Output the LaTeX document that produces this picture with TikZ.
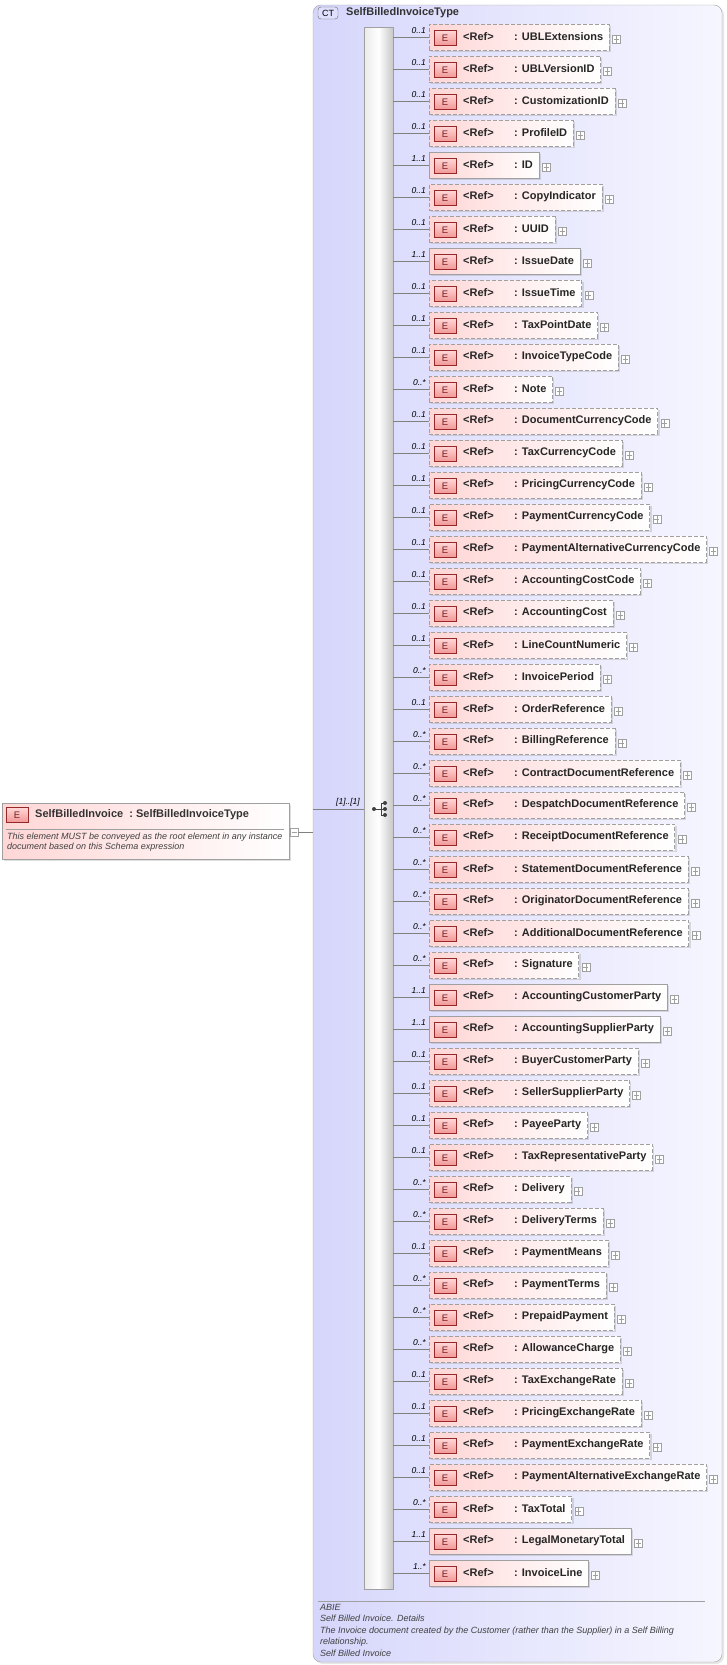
\documentclass[tikz,border=0pt]{standalone}
\usepackage{fontspec}
\setmainfont{Liberation Sans}
\usetikzlibrary{calc,shadows}
\definecolor{pinkL}{RGB}{255,214,214}
\definecolor{lav}{RGB}{214,214,252}
\definecolor{lavR}{RGB}{246,246,255}
\definecolor{edark}{RGB}{150,40,40}
\definecolor{ered}{RGB}{240,150,150}
\definecolor{lgray}{RGB}{160,160,160}
\tikzset{
 box/.style={draw=lgray,left color=pinkL,right color=white,minimum height=26pt,inner xsep=6pt,inner ysep=0pt,
   font=\fontsize{11}{12}\selectfont\bfseries,text=black!85,drop shadow={shadow xshift=2pt,shadow yshift=-2pt,opacity=0.25}},
 opt/.style={dashed,dash pattern=on 4pt off 2pt},
 req/.style={solid},
 ebadge/.style={draw=edark,fill=ered,top color=pinkL,bottom color=ered,minimum width=22pt,minimum height=15pt,inner sep=0pt,font=\fontsize{9.5}{10}\selectfont,text=edark!80!black},
 plus/.style={draw=lgray,fill=white,minimum size=8pt,inner sep=0pt,path picture={\draw[lgray,line width=0.5pt]
   ($(path picture bounding box.west)+(1.5,0)$)--($(path picture bounding box.east)+(-1.5,0)$)
   ($(path picture bounding box.north)+(0,-1.5)$)--($(path picture bounding box.south)+(0,1.5)$);}},
 card/.style={font=\fontsize{8.5}{9}\selectfont\itshape,inner sep=0pt},
 conn/.style={draw=gray,line width=0.6pt},
 doc/.style={font=\fontsize{9}{11.5}\selectfont\itshape,text=black!75,align=left,inner sep=0pt},
}
\begin{document}
\begin{tikzpicture}[x=1pt,y=-1pt]
\useasboundingbox (0,0) rectangle (727,1665);
% CT container
\draw[lgray,rounded corners=8pt,left color=lav,right color=lavR,drop shadow={shadow xshift=2pt,shadow yshift=-2pt,opacity=0.2}] (313,5) rectangle (722,1662);
\node[draw=black!60,fill=lav!70!blue!30,rounded corners=3pt,minimum width=20pt,minimum height=12pt,inner sep=0pt,font=\fontsize{9}{9}\selectfont] (ct) at (328,13) {CT};
\node[anchor=west,font=\fontsize{11}{12}\selectfont\bfseries,text=black!80,inner sep=0pt] (ctname) at (346,13) {SelfBilledInvoiceType};
% compositor bar
\node[draw=lgray,left color=black!8,right color=black!22,middle color=white,minimum width=29pt,minimum height=1562pt,inner sep=0pt] (bar) at (378.5,808) {};
% sequence icon
\coordinate (sq) at (380,809);
\fill[black!75] ($(sq)+(-6,0)$) circle (2pt) ($(sq)+(5,-6)$) circle (2pt) ($(sq)+(5,0)$) circle (2pt) ($(sq)+(5,6)$) circle (2pt);
\draw[black!75,line width=0.8pt] ($(sq)+(-6,0)$)--($(sq)+(1,0)$) ($(sq)+(1,-6)$)--($(sq)+(1,6)$) ($(sq)+(1,-6)$)--($(sq)+(5,-6)$) ($(sq)+(1,6)$)--($(sq)+(5,6)$) ($(sq)+(1,0)$)--($(sq)+(5,0)$);
% rows
\foreach \n/\c/\s [count=\i from 0] in {
UBLExtensions/0..1/opt,UBLVersionID/0..1/opt,CustomizationID/0..1/opt,ProfileID/0..1/opt,ID/1..1/req,
CopyIndicator/0..1/opt,UUID/0..1/opt,IssueDate/1..1/req,IssueTime/0..1/opt,TaxPointDate/0..1/opt,
InvoiceTypeCode/0..1/opt,Note/0..*/opt,DocumentCurrencyCode/0..1/opt,TaxCurrencyCode/0..1/opt,
PricingCurrencyCode/0..1/opt,PaymentCurrencyCode/0..1/opt,PaymentAlternativeCurrencyCode/0..1/opt,
AccountingCostCode/0..1/opt,AccountingCost/0..1/opt,LineCountNumeric/0..1/opt,InvoicePeriod/0..*/opt,
OrderReference/0..1/opt,BillingReference/0..*/opt,ContractDocumentReference/0..*/opt,
DespatchDocumentReference/0..*/opt,ReceiptDocumentReference/0..*/opt,StatementDocumentReference/0..*/opt,
OriginatorDocumentReference/0..*/opt,AdditionalDocumentReference/0..*/opt,Signature/0..*/opt,
AccountingCustomerParty/1..1/req,AccountingSupplierParty/1..1/req,BuyerCustomerParty/0..1/opt,
SellerSupplierParty/0..1/opt,PayeeParty/0..1/opt,TaxRepresentativeParty/0..1/opt,Delivery/0..*/opt,
DeliveryTerms/0..*/opt,PaymentMeans/0..1/opt,PaymentTerms/0..*/opt,PrepaidPayment/0..*/opt,
AllowanceCharge/0..*/opt,TaxExchangeRate/0..1/opt,PricingExchangeRate/0..1/opt,PaymentExchangeRate/0..1/opt,
PaymentAlternativeExchangeRate/0..1/opt,TaxTotal/0..*/opt,LegalMonetaryTotal/1..1/req,InvoiceLine/1..*/req}{
  \node[box,\s,anchor=west] (r\i) at (429,{37+32*\i}) {\hspace*{28pt}\makebox[51pt][l]{\textless Ref\textgreater}: \n};
  \node[ebadge] (e\i) at ($(r\i.west)+(16,1)$) {E};
  \node[plus] (p\i) at ($(r\i.east)+(7,2)$) {};
  \draw[conn] (bar.east |- r\i.west) -- (r\i.west);
  \node[card,anchor=south east] (c\i) at ($(r\i.west)+(-3,-3)$) {\c};
}
% documentation
\draw[lgray] (318,1601) -- (705,1601);
\node[doc,anchor=north west] (ctdoc) at (320,1604) {ABIE\\Self Billed Invoice. Details\\The Invoice document created by the Customer (rather than the Supplier) in a Self Billing\\relationship.\\Self Billed Invoice};
% left element
\node[draw=lgray,left color=pinkL,right color=white,minimum width=287pt,minimum height=56pt,inner sep=0pt,drop shadow={shadow xshift=2pt,shadow yshift=-2pt,opacity=0.25}] (root) at (145.5,831) {};
\node[ebadge] (re) at (17,815) {E};
\node[anchor=west,font=\fontsize{11}{12}\selectfont\bfseries,text=black!80,inner sep=0pt] (rname) at (35,815) {SelfBilledInvoice\ \ :\ SelfBilledInvoiceType};
\draw[lgray] (6,829) -- (284,829);
\node[doc,anchor=north west,font=\fontsize{9}{10}\selectfont\itshape] (rdoc) at (7,833) {This element MUST be conveyed as the root element in any instance\\document based on this Schema expression};
\node[draw=lgray,fill=white,minimum size=8pt,inner sep=0pt] (rminus) at (294,832) {};
\draw[lgray,line width=0.5pt] (291.5,832) -- (296.5,832);
\coordinate (ctin) at (313,832);
\draw[conn] (rminus.east) -- (ctin);
\draw[conn] (313,809) -- (bar.west |- sq);
\node[card,anchor=south east] (occ) at (360,806) {[1]..[1]};
\end{tikzpicture}
\end{document}
